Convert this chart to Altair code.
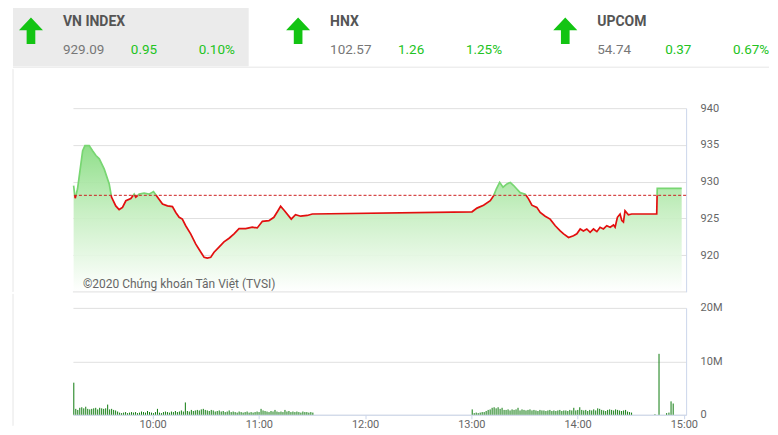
import altair as alt
import pandas as pd

# ---------------- header data ----------------
idx_names = ["VN INDEX", "HNX", "UPCOM"]
idx_values = ["929.09", "102.57", "54.74"]
idx_changes = ["0.95", "1.26", "0.37"]
idx_pcts = ["0.10%", "1.25%", "0.67%"]

# ---------------- price data (minutes since midnight, index level) ----------------
ref_price = 928.14
price_times = [
    555.4, 556.3, 557.6, 560.5, 561.8, 564.2, 566.1, 568.0, 569.9, 572.7,
    575.5, 576.8, 579.2, 581.1, 583.0, 584.9, 587.7, 589.6, 590.5, 592.4,
    595.2, 598.0, 600.5, 602.7, 605.6, 608.4, 611.2, 613.1, 615.0, 616.8,
    618.7, 621.5, 624.4, 626.2, 629.1, 630.9, 632.8, 634.7, 637.5, 640.3,
    643.2, 646.0, 648.8, 652.6, 656.3, 659.1, 662.0, 665.7, 668.5, 670.8,
    672.3, 674.5, 678.3, 680.7, 683.6, 687.3, 690.2,
    780.4, 783.2, 786.9, 790.7, 792.6, 794.1, 796.0, 797.9, 800.1, 802.0,
    803.9, 805.7, 807.6, 810.4, 812.3, 814.2, 817.0, 818.9, 821.7, 824.5,
    827.4, 830.2, 832.1, 834.9, 837.7, 839.6, 841.5, 843.3, 845.2, 847.1,
    849.0, 850.9, 852.7, 854.6, 856.5, 858.4, 860.3, 861.2, 862.5, 864.0,
    865.0, 865.9, 866.8, 868.7, 870.6, 884.7, 885.0, 898.8,
]
price_values = [
    929.47, 927.74, 929.0, 934.2, 934.9, 934.9, 934.2, 933.55, 933.1, 931.7,
    929.7, 927.9, 926.7, 926.2, 926.5, 927.4, 927.7, 928.3, 927.9, 928.3,
    928.45, 928.3, 928.65, 927.9, 926.95, 926.7, 926.6, 925.8, 925.15, 924.9,
    924.0, 922.9, 921.5, 920.8, 919.7, 919.6, 919.7, 920.4, 921.1, 921.8,
    922.3, 922.9, 923.6, 923.6, 923.8, 923.7, 924.6, 924.7, 925.15, 926.05,
    926.65, 926.05, 924.9, 925.5, 925.3, 925.4, 925.6,
    925.9, 926.4, 926.8, 927.4, 928.1, 929.0, 929.9, 929.25, 929.7, 929.9,
    929.47, 929.0, 928.5, 928.3, 927.66, 926.8, 926.5, 925.8, 925.3, 924.9,
    924.0, 923.3, 922.9, 922.4, 922.65, 922.9, 923.56, 923.3, 923.56, 923.1,
    923.56, 923.2, 923.8, 923.56, 924.0, 923.8, 924.1, 923.8, 925.15, 925.6,
    924.7, 924.5, 926.05, 925.5, 925.6, 925.6, 929.09, 929.09,
]

# ---------------- volume data (millions) ----------------
bar_step = 1.125
morning_start = 555.5
afternoon_start = 780.5
vol_morning = [
    6.0,
    1.1, 0.9, 1.3, 1.4, 1.2, 1.5, 1.1, 1.0, 1.1, 1.2, 1.3, 1.0, 1.3, 1.2, 1.1, 1.2, 1.9, 1.0, 1.1, 0.9,
    0.8, 0.6, 0.4, 0.3, 0.4, 0.5, 0.3, 0.4, 0.5, 0.4, 0.5, 0.3, 0.4, 0.6, 0.5, 0.4, 0.7, 0.5, 0.4, 0.3,
    0.5, 1.1, 0.4, 0.3, 0.5, 0.6, 0.5, 0.4, 0.6, 0.5, 0.7, 0.5, 0.6, 0.8, 0.6, 2.3, 0.7, 0.6, 0.9, 0.7,
    0.8, 0.9, 0.8, 1.0, 1.1, 0.9, 0.8, 0.7, 0.9, 0.8, 0.6, 0.7, 0.8, 0.6, 0.7, 0.5, 0.6, 0.8, 0.5, 0.6,
    0.5, 0.4, 0.6, 0.5, 0.4, 0.5, 0.6, 0.4, 0.5, 0.4, 0.5, 0.6, 0.5, 1.1, 0.8, 0.7, 0.6, 0.5, 0.7, 0.6,
    0.9, 0.6, 0.5, 0.6, 0.5, 0.9, 0.6, 0.7, 0.5, 0.6, 0.5, 0.6, 0.5, 0.4, 0.6, 0.5, 0.5, 0.4, 0.5, 0.4,
]
vol_afternoon = [
    1.0,
    0.3, 0.4, 0.3, 0.4, 0.5, 0.5, 0.7, 0.9, 1.0, 1.3,
    1.4, 1.2, 1.4, 1.1, 1.3, 0.9, 0.9, 1.0, 0.8, 1.0,
    0.9, 1.0, 1.3, 0.8, 1.0, 0.9, 0.8, 0.9, 1.0, 0.8,
    0.9, 0.8, 0.7, 0.9, 0.8, 0.8, 0.7, 0.8, 0.9, 0.7,
    0.8, 0.7, 0.8, 0.9, 0.7, 0.8, 0.8, 0.7, 0.9, 0.8,
    1.3, 0.8, 0.9, 1.4, 0.9, 0.8, 0.9, 0.7, 0.9, 0.8,
    1.0, 0.8, 1.2, 1.1, 0.9, 0.8, 0.7, 0.9, 1.0, 0.9,
    0.8, 1.0, 0.9, 0.8, 0.7, 0.8, 0.9, 0.6, 0.5, 0.4,
]
atc_times = [883.7, 886.0, 890.3, 891.6, 892.8, 894.0]
atc_vol = [0.1, 11.4, 0.3, 0.4, 2.5, 2.1]

# ---------------- axes ----------------
price_ticks = [920, 925, 930, 935, 940]
price_floor = 915
vol_ticks = [0, 10, 20]
vol_tick_labels = ["0", "10M", "20M"]
time_ticks = [600, 660, 720, 780, 840, 900]
time_tick_labels = ["10:00", "11:00", "12:00", "13:00", "14:00", "15:00"]
copyright_text = ["©2020 Chứng khoán Tân Việt (TVSI)"]

FONT = "Roboto"
GRID = "#e0e0e0"
EDGE = "#ccd6eb"
LABEL = "#666666"

# ---------------- build tables ----------------
pts = list(zip(price_times, price_values))
full = [pts[0]]
for (t0, p0), (t1, p1) in zip(pts[:-1], pts[1:]):
    if (p0 - ref_price) * (p1 - ref_price) < 0:
        tc = t0 + (t1 - t0) * (ref_price - p0) / (p1 - p0)
        full.append((tc, ref_price))
    full.append((t1, p1))
area_df = pd.DataFrame(full, columns=["t", "p"])

line_rows = []
seg = -1
prev_kind = None
for (t0, p0), (t1, p1) in zip(full[:-1], full[1:]):
    kind = "up" if (p0 + p1) / 2 > ref_price else "down"
    if kind != prev_kind:
        seg += 1
        line_rows.append((t0, p0, seg, kind))
        prev_kind = kind
    line_rows.append((t1, p1, seg, kind))
line_df = pd.DataFrame(line_rows, columns=["t", "p", "seg", "kind"])

vol_t = [morning_start + i * bar_step for i in range(len(vol_morning))]
vol_t += [afternoon_start + i * bar_step for i in range(len(vol_afternoon))]
vol_t += atc_times
vol_v = vol_morning + vol_afternoon + atc_vol
vol_df = pd.DataFrame({"t": vol_t, "v": vol_v})

head_df = pd.DataFrame({
    "i": list(range(len(idx_names))),
    "name": idx_names, "value": idx_values,
    "chg": idx_changes, "pct": idx_pcts,
})
one = pd.DataFrame({"a": [0]})


def label_expr(vals, labels):
    expr = "''"
    for v, l in reversed(list(zip(vals, labels))):
        expr = f"datum.value == {v} ? '{l}' : ({expr})"
    return expr


# ---------------- header (origin aligned with the plot's left edge) ----------------
HW = 697
hx = alt.X("i:Q", scale=alt.Scale(domain=[0, 1], range=[-10, 257.5]), axis=None)
arrow_path = "M0,-1.1 L1,-0.05 L0.36,-0.05 L0.36,1.1 L-0.36,1.1 L-0.36,-0.05 L-1,-0.05 Z"
hbase = alt.Chart(head_df)
header = alt.layer(
    alt.Chart(one).mark_rect(color="#ebebeb").encode(
        x=alt.value(-60), x2=alt.value(176), y=alt.value(0), y2=alt.value(63)),
    alt.Chart(one).mark_rule(color="#e6e6e6", strokeWidth=1).encode(
        x=alt.value(-60), x2=alt.value(HW), y=alt.value(64)),
    hbase.mark_point(shape=arrow_path, filled=True, size=580, opacity=1,
                     color="#13c413", xOffset=-32).encode(x=hx, y=alt.value(27.5)),
    hbase.mark_text(align="left", baseline="alphabetic", font=FONT, fontSize=14,
                    fontWeight="bold", color="#555555").encode(x=hx, y=alt.value(22.5), text="name:N"),
    hbase.mark_text(align="left", baseline="alphabetic", font=FONT, fontSize=13.5,
                    color="#777777").encode(x=hx, y=alt.value(51), text="value:N"),
    hbase.mark_text(align="left", baseline="alphabetic", font=FONT, fontSize=13.5,
                    color="#22c322", dx=68).encode(x=hx, y=alt.value(51), text="chg:N"),
    hbase.mark_text(align="left", baseline="alphabetic", font=FONT, fontSize=13.5,
                    color="#22c322", dx=136).encode(x=hx, y=alt.value(51), text="pct:N"),
).properties(width=HW, height=64)

# ---------------- price panel ----------------
xs = alt.Scale(domain=[555, 901.3], nice=False, zero=False)
ys = alt.Scale(domain=[915, 940], nice=False, zero=False)
gradient = alt.Gradient(
    gradient="linear", x1=0, x2=0, y1=0, y2=1,
    stops=[alt.GradientStop(color="#86dc80", offset=0),
           alt.GradientStop(color="#c4eebf", offset=0.45),
           alt.GradientStop(color="#ffffff", offset=1)],
)
price_axis = alt.Axis(orient="right", values=price_ticks, grid=True, gridColor=GRID,
                      domainColor=EDGE, ticks=False, labelPadding=14, labelColor=LABEL,
                      labelFontSize=11, labelFont=FONT, title=None)

price = alt.layer(
    alt.Chart(area_df).mark_area(color=gradient, opacity=0.92, interpolate="linear").encode(
        x=alt.X("t:Q", scale=xs, axis=None),
        y=alt.Y("p:Q", scale=ys, axis=price_axis),
        y2=alt.datum(price_floor),
    ),
    alt.Chart(one).mark_rule(color=GRID).encode(y=alt.datum(price_floor)),
    alt.Chart(line_df).mark_line(strokeWidth=1.7, interpolate="linear").encode(
        x=alt.X("t:Q", scale=xs, axis=None),
        y=alt.Y("p:Q", scale=ys),
        color=alt.Color("kind:N", scale=alt.Scale(domain=["up", "down"],
                                                  range=["#78d672", "#e20f0f"]), legend=None),
        detail="seg:N",
    ),
    alt.Chart(pd.DataFrame({"ref": [ref_price]})).mark_rule(
        color="#cc1f1f", strokeDash=[3, 2], strokeWidth=1).encode(y=alt.Y("ref:Q", scale=ys)),
    alt.Chart(pd.DataFrame({"txt": copyright_text})).mark_text(
        align="left", baseline="middle", font=FONT, fontSize=12, color="#666666").encode(
        x=alt.value(10), y=alt.value(176), text="txt:N"),
    alt.Chart(one).mark_rule(color="#e6e6e6").encode(
        x=alt.value(-60), y=alt.value(-39), y2=alt.value(184)),
).properties(width=614, height=184)

# ---------------- volume panel ----------------
vs = alt.Scale(domain=[0, 20], nice=False)
vol_bars = alt.Chart(vol_df).mark_rule(color="#0e7a0e", strokeWidth=1).encode(
    x=alt.X("t:Q", scale=xs, axis=alt.Axis(values=time_ticks, labelExpr=label_expr(time_ticks, time_tick_labels),
                                           tickSize=4, tickColor=EDGE, domainColor=EDGE, labelColor=LABEL,
                                           labelFontSize=11, labelFont=FONT, grid=False, title=None,
                                           labelPadding=0, labelFlush=False)),
    y=alt.Y("v:Q", scale=vs, axis=alt.Axis(orient="right", values=vol_ticks,
                                           labelExpr=label_expr(vol_ticks, vol_tick_labels),
                                           grid=True, gridColor=GRID, domainColor=EDGE, ticks=False,
                                           labelPadding=14, labelColor=LABEL, labelFontSize=11,
                                           labelFont=FONT, title=None)),
    y2=alt.datum(0),
)
volume = alt.layer(
    vol_bars,
    alt.Chart(one).mark_rule(color="#e6e6e6").encode(
        x=alt.value(-60), y=alt.value(-14), y2=alt.value(118)),
).properties(width=614, height=107)

chart = alt.vconcat(header, price, volume, spacing=0).properties(
    padding={"left": 4, "top": -5, "right": 0, "bottom": 0}
).configure(font=FONT).configure_view(stroke=None)

chart.save("out.html", embed_options={"renderer": "svg", "actions": False})
